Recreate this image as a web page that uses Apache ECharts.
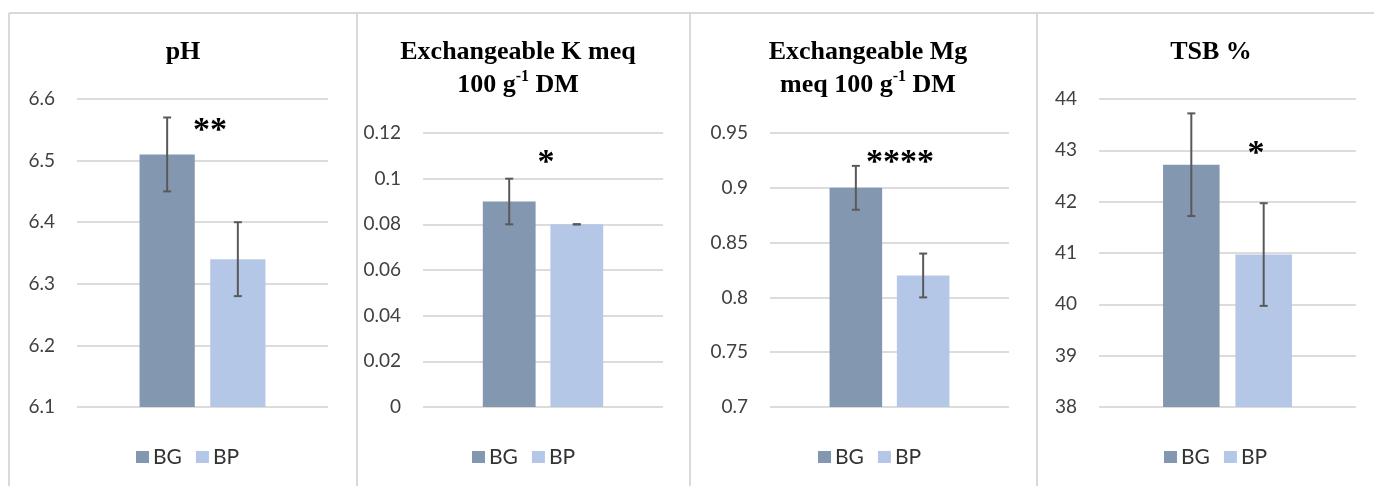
<!DOCTYPE html>
<html><head><meta charset="utf-8">
<script src="https://cdn.jsdelivr.net/npm/echarts@6/dist/echarts.min.js"></script>
<style>html,body{margin:0;padding:0;background:#fff}#c{width:1374px;height:486px}</style>
</head><body><div id="c"></div>
<script>
// ---- data ----
const panelTitles = ['pH', 'Exchangeable K meq\n100 g{sup|-1} DM', 'Exchangeable Mg\nmeq 100 g{sup|-1} DM', 'TSB %'];
const seriesNames = ['BG', 'BP'];
const bgValues = [6.51, 0.09, 0.90, 42.72];
const bpValues = [6.34, 0.08, 0.82, 40.97];
const bgLow = [6.45, 0.08, 0.88, 41.72];
const bgHigh = [6.57, 0.10, 0.92, 43.72];
const bpLow = [6.28, 0.08, 0.80, 39.97];
const bpHigh = [6.40, 0.08, 0.84, 41.97];
const axisMin = [6.1, 0, 0.7, 38];
const axisMax = [6.6, 0.12, 0.95, 44];
const axisInterval = [0.1, 0.02, 0.05, 1];
const starText = ['**', '*', '****', '*'];
const starValue = [6.558, 0.1095, 0.928, 43.05];

// ---- layout ----
const grids = [
  {left: 77, width: 251, top: 99, height: 308},
  {left: 423, width: 240, top: 133, height: 274},
  {left: 770, width: 239, top: 133, height: 274},
  {left: 1099, width: 257, top: 99, height: 308}
];
const titleX = [183, 518, 868, 1211];
const legendX = [136, 472, 818, 1164];
const starDx = [7.5, 3, 10.5, 28.5];
const starDy = 6;
const dividers = [9, 357, 690, 1037];
const BAR_W = 0.22, BAR_GAP = 0.28;
const colors = ['#8497b0', '#b4c7e7'];

function errRender(side) {
  return function (params, api) {
    const hi = api.coord([api.value(0), api.value(2)]);
    const lo = api.coord([api.value(0), api.value(1)]);
    const band = api.size([1, 0])[0];
    const w = band * BAR_W, g = w * BAR_GAP;
    const x = hi[0] + side * (w + g) / 2;
    const cap = 4;
    const st = {stroke: '#595959', lineWidth: 2};
    return {type: 'group', children: [
      {type: 'line', shape: {x1: x, y1: hi[1], x2: x, y2: lo[1]}, style: st},
      {type: 'line', shape: {x1: x - cap, y1: hi[1], x2: x + cap, y2: hi[1]}, style: st},
      {type: 'line', shape: {x1: x - cap, y1: lo[1], x2: x + cap, y2: lo[1]}, style: st}
    ]};
  };
}
function starRender(i) {
  return function (params, api) {
    const p = api.coord([api.value(0), api.value(1)]);
    return {type: 'text', x: p[0] + starDx[i], y: p[1] + starDy,
      style: {text: starText[i], font: 'bold 34px "Liberation Serif"', fill: '#000',
        align: 'center', verticalAlign: 'middle'}};
  };
}

const option = {
  animation: false,
  color: colors,
  title: [], legend: [], grid: [], xAxis: [], yAxis: [], series: [],
  graphic: []
};
for (let i = 0; i < 4; i++) {
  option.grid.push(grids[i]);
  option.title.push({
    text: panelTitles[i], left: titleX[i], top: 36, textAlign: 'center', padding: 0,
    textStyle: {fontFamily: 'Liberation Serif', fontWeight: 'bold', fontSize: 26, color: '#000', lineHeight: 33,
      rich: {sup: {fontFamily: 'Liberation Serif', fontWeight: 'bold', fontSize: 16, lineHeight: 16, verticalAlign: 'top', color: '#000'}}}
  });
  option.legend.push({
    data: seriesNames, left: legendX[i], top: 446, padding: 0, itemWidth: 13, itemHeight: 12, itemGap: 14,
    icon: 'rect', selectedMode: false,
    textStyle: {fontFamily: 'Lato', fontSize: 21, color: '#333', lineHeight: 22, padding: [0, 0, 0, -1]}
  });
  option.xAxis.push({type: 'category', gridIndex: i, data: ['x'], axisLine: {show: false}, axisTick: {show: false}, axisLabel: {show: false}});
  option.yAxis.push({type: 'value', gridIndex: i, min: axisMin[i], max: axisMax[i], interval: axisInterval[i],
    axisLine: {show: false}, axisTick: {show: false},
    axisLabel: {fontFamily: 'Lato', fontSize: 19, color: '#404040', margin: 22,
      formatter: v => String(parseFloat(v.toFixed(4)))},
    splitLine: {lineStyle: {color: '#dcdcdc', width: 2}}});
  option.series.push({type: 'bar', name: 'BG', xAxisIndex: i, yAxisIndex: i, data: [bgValues[i]], barWidth: (BAR_W * 100) + '%', barGap: (BAR_GAP * 100) + '%', itemStyle: {color: colors[0]}});
  option.series.push({type: 'bar', name: 'BP', xAxisIndex: i, yAxisIndex: i, data: [bpValues[i]], barWidth: (BAR_W * 100) + '%', barGap: (BAR_GAP * 100) + '%', itemStyle: {color: colors[1]}});
  option.series.push({type: 'custom', name: 'errBG', xAxisIndex: i, yAxisIndex: i, renderItem: errRender(-1), data: [[0, bgLow[i], bgHigh[i]]], encode: {x: 0, y: [1, 2]}, z: 5});
  option.series.push({type: 'custom', name: 'errBP', xAxisIndex: i, yAxisIndex: i, renderItem: errRender(1), data: [[0, bpLow[i], bpHigh[i]]], encode: {x: 0, y: [1, 2]}, z: 5});
  option.series.push({type: 'custom', name: 'stars', xAxisIndex: i, yAxisIndex: i, renderItem: starRender(i), data: [[0, starValue[i]]], encode: {x: 0, y: 1}, z: 6});
}
option.graphic.push({type: 'line', shape: {x1: 9, y1: 13, x2: 1374, y2: 13}, style: {stroke: '#d9d9d9', lineWidth: 2}, silent: true});
dividers.forEach(x => option.graphic.push({type: 'line', shape: {x1: x, y1: 13, x2: x, y2: 486}, style: {stroke: '#d9d9d9', lineWidth: 2}, silent: true}));

const chart = echarts.init(document.getElementById('c'));
chart.setOption(option);
</script></body></html>
